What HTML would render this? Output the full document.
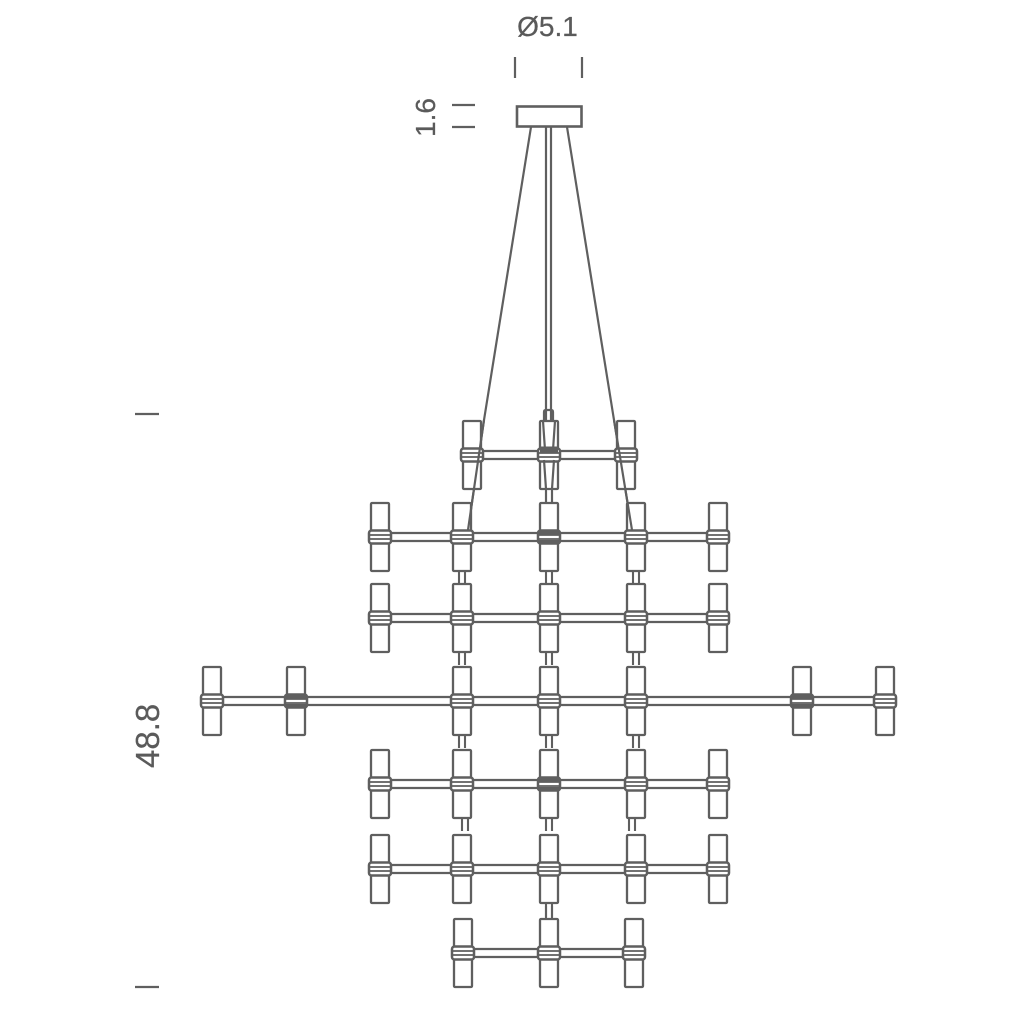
<!DOCTYPE html>
<html><head><meta charset="utf-8"><style>
html,body{margin:0;padding:0;background:#fff;width:1024px;height:1024px;overflow:hidden}
svg{display:block;filter:blur(0.35px)}
text{font-family:"Liberation Sans",sans-serif;fill:#5a5a5a;stroke:#5a5a5a;stroke-width:.25}
</style></head><body>
<svg width="1024" height="1024" viewBox="0 0 1024 1024" xmlns="http://www.w3.org/2000/svg">
<defs>
<g id="u" fill="none" stroke="#5f5f5f" stroke-width="2.3">
<rect x="-9" y="-34" width="18" height="68" rx="1" fill="#fff"/>
<rect x="-11" y="-6.500" width="22" height="13" rx="2.500" fill="#fff" stroke-width="2.500"/>
<path d="M-11-2H11M-11 2H11" stroke-width="1.800"/>
</g>
<g id="d" fill="none" stroke="#5f5f5f">
<path d="M-11-4H11M-11 4.500H11" stroke-width="3.200"/>
</g>
<g id="c" stroke="#5f5f5f" stroke-width="2.100"><path d="M-3 0V13M3 0V13"/></g>
</defs>
<rect width="1024" height="1024" fill="#fff"/>
<g stroke="#5f5f5f" stroke-width="2.200" fill="none">
<path d="M531 127L484 420L468 530"/>
<path d="M567 127L614 420L632 530"/>
<path d="M546 127V420M551 127V420"/>
<path d="M544 421V412Q544 410 546 410H551Q553 410 553 412V421"/>
<path d="M515 57V78M582 57V78M452 105H475M452 127H475M135 414H159M135 987H159" stroke-width="2.200"/>
<rect x="517" y="106.500" width="64.500" height="20" stroke-width="2.600" fill="#fff"/>
<path d="M472 451H626M472 459H626"/>
<path d="M380 533H718M380 541H718"/>
<path d="M380 614H718M380 622H718"/>
<path d="M212 697H885M212 705H885"/>
<path d="M380 780H718M380 788H718"/>
<path d="M380 865H718M380 873H718"/>
<path d="M463 949H634M463 957H634"/>
</g>
<use href="#c" x="549" y="489"/><use href="#c" x="549" y="491"/>
<use href="#c" x="462" y="571"/><use href="#c" x="549" y="571"/><use href="#c" x="636" y="571"/>
<use href="#c" x="462" y="652"/><use href="#c" x="549" y="652"/><use href="#c" x="636" y="652"/>
<use href="#c" x="462" y="735"/><use href="#c" x="549" y="735"/><use href="#c" x="636" y="735"/>
<use href="#c" x="465" y="818"/><use href="#c" x="549" y="818"/><use href="#c" x="632" y="818"/>
<use href="#c" x="549" y="904"/><use href="#c" x="549" y="906"/>
<use href="#u" x="472" y="455"/><use href="#u" x="549" y="455"/><use href="#u" x="626" y="455"/>
<use href="#u" x="380" y="537"/><use href="#u" x="462" y="537"/><use href="#u" x="549" y="537"/><use href="#u" x="636" y="537"/><use href="#u" x="718" y="537"/>
<use href="#u" x="380" y="618"/><use href="#u" x="462" y="618"/><use href="#u" x="549" y="618"/><use href="#u" x="636" y="618"/><use href="#u" x="718" y="618"/>
<use href="#u" x="212" y="701"/><use href="#u" x="296" y="701"/><use href="#u" x="462" y="701"/><use href="#u" x="549" y="701"/><use href="#u" x="636" y="701"/><use href="#u" x="802" y="701"/><use href="#u" x="885" y="701"/>
<use href="#u" x="380" y="784"/><use href="#u" x="462" y="784"/><use href="#u" x="549" y="784"/><use href="#u" x="636" y="784"/><use href="#u" x="718" y="784"/>
<use href="#u" x="380" y="869"/><use href="#u" x="462" y="869"/><use href="#u" x="549" y="869"/><use href="#u" x="636" y="869"/><use href="#u" x="718" y="869"/>
<use href="#u" x="463" y="953"/><use href="#u" x="549" y="953"/><use href="#u" x="634" y="953"/>
<use href="#d" x="549" y="537"/><use href="#d" x="549" y="784"/><use href="#d" x="296" y="701"/><use href="#d" x="802" y="701"/>
<g stroke="#5f5f5f" stroke-width="2.200" fill="none">
<path d="M484 420L468 530M614 420L632 530"/>
<path d="M543 421L545 450M555 421L553 450M544 460L546 489M554 460L552 489"/>
<path d="M540 450H558" stroke-width="7"/>
</g>
<text x="547.500" y="36" font-size="28" text-anchor="middle">Ø5.1</text>
<text transform="translate(435,137) rotate(-90)" font-size="28">1.6</text>
<text transform="translate(159,768) rotate(-90)" font-size="33">48.8</text>
</svg>
</body></html>
